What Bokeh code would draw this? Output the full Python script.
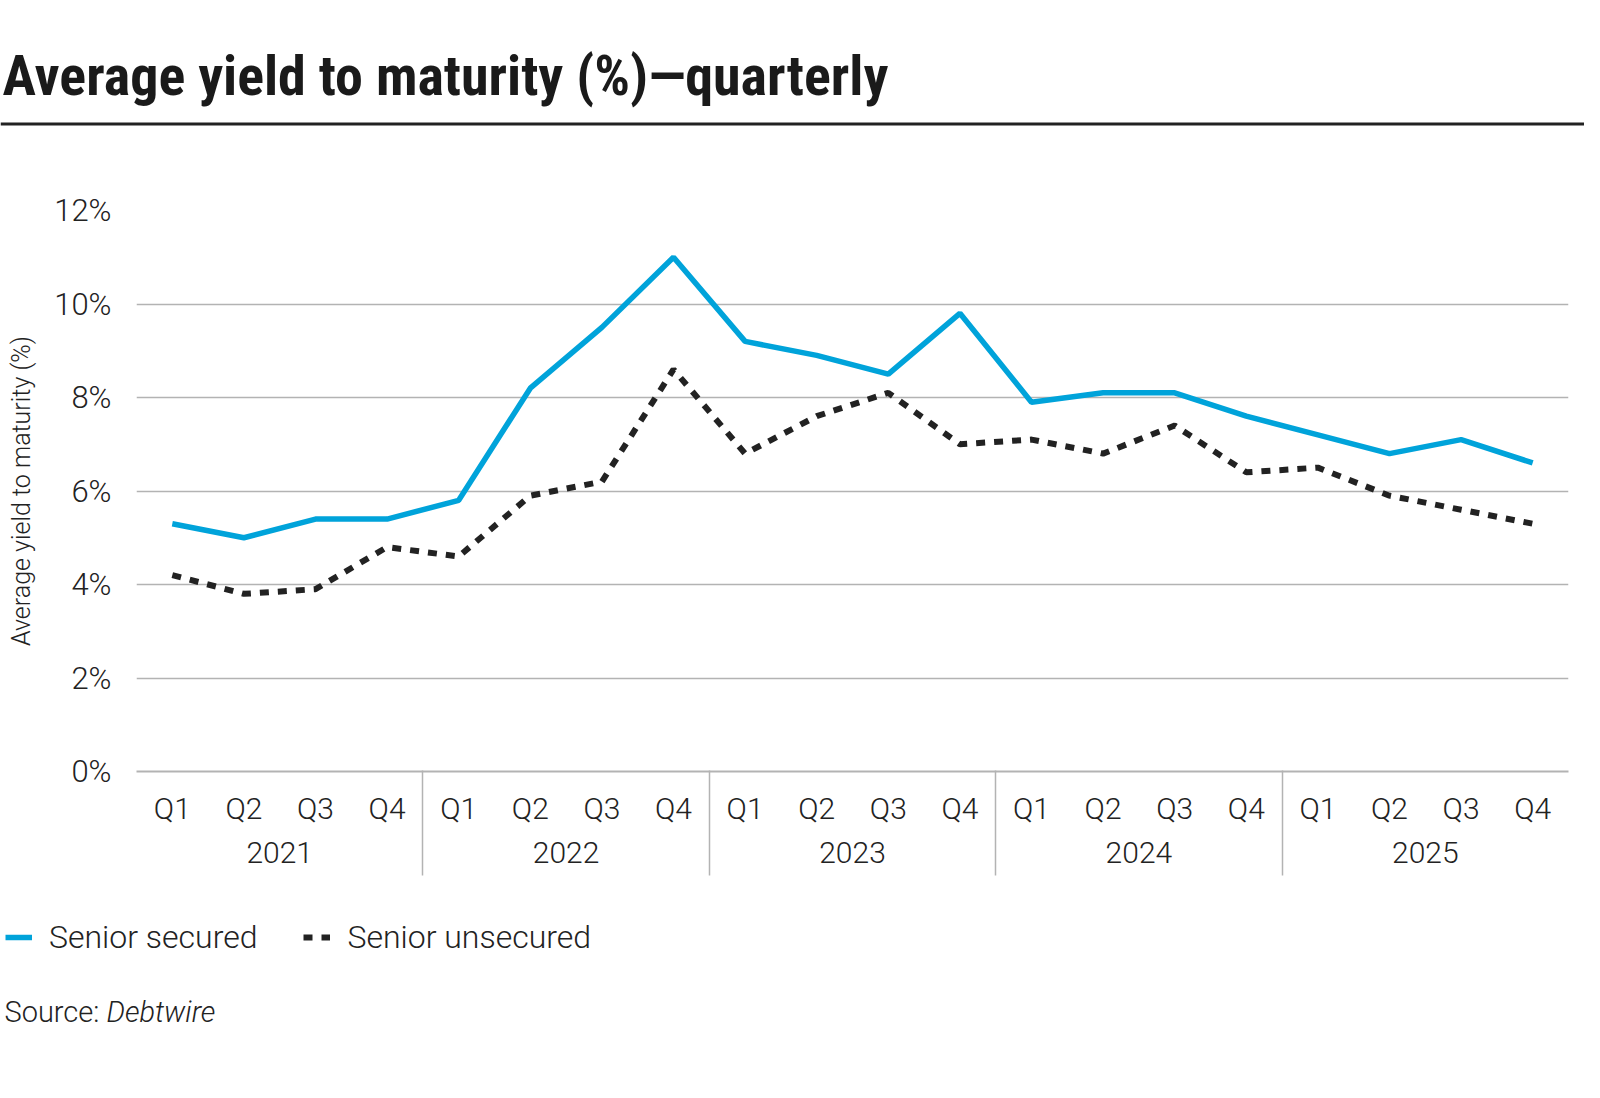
from bokeh.plotting import figure
from bokeh.layouts import column
from bokeh.models import (ColumnDataSource, FactorRange, Range1d, Label, BoxAnnotation,
                          Legend, LegendItem, FixedTicker, PrintfTickFormatter, CategoricalAxis)
from bokeh.embed import file_html
from bokeh.resources import INLINE

# data
years = ["2021", "2022", "2023", "2024", "2025"]
quarters = ["Q1", "Q2", "Q3", "Q4"]
senior_secured = [5.3, 5.0, 5.4, 5.4, 5.8, 8.2, 9.5, 11.0, 9.2, 8.9, 8.5, 9.8,
                  7.9, 8.1, 8.1, 7.6, 7.2, 6.8, 7.1, 6.6]
senior_unsecured = [4.2, 3.8, 3.9, 4.8, 4.6, 5.9, 6.2, 8.6, 6.8, 7.6, 8.1, 7.0,
                    7.1, 6.8, 7.4, 6.4, 6.5, 5.9, 5.6, 5.3]
y_ticks = [0, 2, 4, 6, 8, 10, 12]

title_text = "Average yield to maturity (%)\u2014quarterly"
y_label = "Average yield to maturity (%)"
series_names = ["Senior secured", "Senior unsecured"]

LIGHT = "'Roboto Light', Roboto, sans-serif"
TITLE_FONT = "'Liberation Sans Narrow', 'Roboto Condensed', Roboto, sans-serif"
TXT = "#222222"
BLUE = "#00A3DA"
DARK = "#222222"
GREY = "#b3b3b3"
W = 1584


def blank(fig):
    fig.grid.grid_line_color = None
    fig.outline_line_color = None
    return fig


# ---- header: title + rule
head = blank(figure(width=W, height=130, x_range=Range1d(0, 1), y_range=Range1d(0, 1),
                    x_axis_location=None, y_axis_location=None, frame_align=False,
                    tools="", toolbar_location=None, output_backend="svg", min_border=0))
head.add_layout(Label(x=2, y=55, x_units="screen", y_units="screen", text=title_text,
                      text_font=TITLE_FONT, text_font_style="bold", text_font_size="56px",
                      text_color="#1a1a1a", text_baseline="alphabetic"))
head.add_layout(BoxAnnotation(top=8, bottom=5, top_units="screen", bottom_units="screen",
                              fill_color=DARK, fill_alpha=1, line_color=None))

# ---- main chart
factors = [(y, q) for y in years for q in quarters]
source = ColumnDataSource(data=dict(x=factors, secured=senior_secured, unsecured=senior_unsecured))

p = figure(x_range=FactorRange(*factors, group_padding=0, factor_padding=0, subgroup_padding=0,
                               range_padding=0),
           y_range=Range1d(0, 12), width=W, height=765, tools="", frame_align=False,
           toolbar_location=None, output_backend="svg",
           min_border_left=136, min_border_right=16, min_border_top=80, min_border_bottom=124)
p.outline_line_color = None
p.xgrid.grid_line_color = None
p.ygrid.grid_line_color = GREY
p.ygrid.grid_line_width = 1.5

p.yaxis.ticker = FixedTicker(ticks=y_ticks)
p.yaxis.formatter = PrintfTickFormatter(format="%d%%")
p.yaxis.axis_line_color = None
p.yaxis.major_tick_line_color = None
p.yaxis.minor_tick_line_color = None
p.yaxis.major_label_standoff = 19
p.yaxis.major_label_text_font = LIGHT
p.yaxis.major_label_text_font_size = "31px"
p.yaxis.major_label_text_color = TXT
p.yaxis.axis_label = y_label
p.yaxis.axis_label_text_font = LIGHT
p.yaxis.axis_label_text_font_size = "25px"
p.yaxis.axis_label_text_font_style = "normal"
p.yaxis.axis_label_text_color = TXT
p.yaxis.axis_label_standoff = 15

p.xaxis.axis_line_color = GREY
p.xaxis.axis_line_width = 2
p.xaxis.major_tick_line_color = None
p.xaxis.major_label_standoff = 13
p.xaxis.major_label_text_font = LIGHT
p.xaxis.major_label_text_font_size = "30px"
p.xaxis.major_label_text_color = TXT
p.xaxis.group_text_font = LIGHT
p.xaxis.group_text_font_size = "30px"
p.xaxis.group_text_font_style = "normal"
p.xaxis.group_text_color = TXT
p.xaxis.separator_line_color = None

# year boundaries (both ends too): ticks of a bare axis under the category axis, pointing up
bounds = ["b%d" % i for i in range(len(years) + 1)]
p.extra_x_ranges = {"bounds": FactorRange(*bounds, range_padding=-0.5,
                                          range_padding_units="absolute")}
edges = CategoricalAxis(x_range_name="bounds", axis_line_color=None,
                        major_tick_line_color=GREY, major_tick_line_width=1.5,
                        major_tick_in=95, major_tick_out=10, major_label_standoff=0,
                        major_label_text_alpha=0, major_label_text_font_size="1px")
p.add_layout(edges, "below")

r1 = p.line("x", "secured", source=source, line_color=BLUE, line_width=5.5)
r2 = p.line("x", "unsecured", source=source, line_color=DARK, line_width=6, line_dash="9 9")

# ---- footer: legend + source
foot = blank(figure(width=W, height=187, x_range=Range1d(0, 1), y_range=Range1d(0, 1),
                    x_axis_location=None, y_axis_location=None, frame_align=False,
                    tools="", toolbar_location=None, output_backend="svg", min_border=0))
# same series, kept out of this strip's view; only their legend samples show
key_src = ColumnDataSource(data=dict(i=list(range(len(factors))), secured=senior_secured,
                                     unsecured=senior_unsecured))
k1 = foot.line("i", "secured", source=key_src, line_color=BLUE, line_width=5.5)
k2 = foot.line("i", "unsecured", source=key_src, line_color=DARK, line_width=6, line_dash="9 9")
legend = Legend(items=[LegendItem(label=series_names[0], renderers=[k1]),
                       LegendItem(label=series_names[1], renderers=[k2])],
                orientation="horizontal", location=(5, 126),
                glyph_width=27, glyph_height=30, label_standoff=17, spacing=46,
                padding=0, margin=0, border_line_color=None, background_fill_alpha=0,
                label_text_font=LIGHT, label_text_font_size="32px", label_text_color=TXT)
foot.add_layout(legend)
foot.add_layout(Label(x=4, y=71, x_units="screen", y_units="screen", text="Source:",
                      text_font=LIGHT, text_font_size="29px", text_color=TXT,
                      text_baseline="alphabetic"))
foot.add_layout(Label(x=106, y=71, x_units="screen", y_units="screen", text="Debtwire",
                      text_font=LIGHT, text_font_size="29px", text_font_style="italic",
                      text_color=TXT, text_baseline="alphabetic"))

layout = column(head, p, foot, spacing=0)
open("out.html", "w").write(file_html(layout, INLINE))
